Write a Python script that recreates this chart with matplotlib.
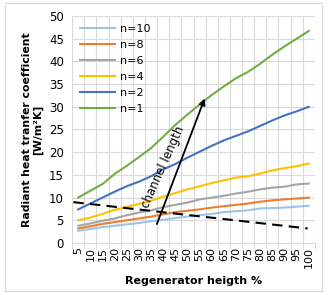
import numpy as np
import matplotlib
matplotlib.use("Agg")
import matplotlib.pyplot as plt
from matplotlib.patches import Rectangle

heights = [5, 10, 15, 20, 25, 30, 35, 40, 45, 50, 55, 60, 65, 70, 75, 80, 85, 90, 95, 100]

n10 = [2.7, 3.1, 3.5, 3.8, 4.1, 4.4, 4.8, 5.1, 5.5, 5.8, 6.1, 6.4, 6.8, 7.0, 7.2, 7.6, 7.7, 7.8, 8.0, 8.2]
n8 = [3.2, 3.7, 4.2, 4.6, 5.0, 5.4, 5.8, 6.3, 6.8, 7.1, 7.4, 7.8, 8.1, 8.4, 8.7, 9.1, 9.4, 9.6, 9.8, 10.0]
n6 = [3.8, 4.3, 4.9, 5.4, 6.1, 6.7, 7.2, 7.9, 8.4, 8.9, 9.6, 10.0, 10.4, 10.9, 11.3, 11.8, 12.2, 12.4, 12.9, 13.1]
n4 = [5.0, 5.6, 6.4, 7.3, 8.0, 8.6, 9.3, 10.2, 11.0, 11.8, 12.5, 13.2, 13.8, 14.4, 14.7, 15.3, 16.0, 16.5, 16.9, 17.5]
n2 = [7.4, 8.7, 10.0, 11.3, 12.5, 13.5, 14.7, 16.2, 17.4, 18.8, 20.1, 21.4, 22.6, 23.6, 24.6, 25.8, 27.0, 28.1, 29.0, 30.0]
n1 = [10.0, 11.5, 13.0, 15.2, 17.0, 18.9, 20.9, 23.4, 26.0, 28.3, 30.5, 32.6, 34.5, 36.3, 37.7, 39.5, 41.5, 43.3, 45.0, 46.7]

series = [("n=10", n10, "#9DC3E6"), ("n=8", n8, "#ED7D31"), ("n=6", n6, "#A5A5A5"),
          ("n=4", n4, "#FFC000"), ("n=2", n2, "#4472C4"), ("n=1", n1, "#70AD47")]

# dashed trend line and arrow (category index, value)
dash_x = [-0.4, 18.9]
dash_y = [9.0, 3.2]
arrow_tail = (6.4, 3.6)
arrow_head = (10.5, 32.4)

fig = plt.figure(figsize=(3.28, 2.95), dpi=100)
fig.patches.append(Rectangle((0.015, 0.015), 0.968, 0.975, transform=fig.transFigure,
                             fill=False, edgecolor="#D9D9D9", linewidth=0.8))
ax = fig.add_axes([0.220, 0.1763, 0.740, 0.7695])

x = np.arange(len(heights))
for name, vals, col in series:
    ax.plot(x, vals, color=col, linewidth=1.5, label=name)

ax.plot(dash_x, dash_y, color="black", linestyle=(0, (5, 3)), linewidth=1.5)
ax.annotate("", xy=arrow_head, xytext=arrow_tail,
            arrowprops=dict(arrowstyle="-|>", color="black", lw=1.3, mutation_scale=9))
ax.text(7.0, 16.7, "channel length", rotation=66, fontsize=8.5,
        ha="center", va="center", rotation_mode="anchor")

ax.set_xlim(-0.5, len(heights) - 0.5)
ax.set_ylim(0, 50)
ax.set_yticks(range(0, 51, 5))
ax.set_xticks(x)
ax.set_xticklabels([str(h) for h in heights], rotation=90)
ax.set_xticks(np.arange(-0.5, len(heights), 1), minor=True)
ax.tick_params(axis="x", which="major", length=0, labelsize=8, pad=3)
ax.tick_params(axis="x", which="minor", length=4, color="#D9D9D9")
ax.tick_params(axis="y", length=0, labelsize=8.5, pad=6)
ax.grid(True, axis="y", color="#D9D9D9", linewidth=0.8)
ax.grid(True, axis="x", which="minor", color="#D9D9D9", linewidth=0.8)
for s in ax.spines.values():
    s.set_visible(False)
ax.spines["bottom"].set_visible(True)
ax.spines["bottom"].set_color("#D9D9D9")

ax.set_ylabel("Radiant heat tranfer coefficient\n[W/m²K]", fontsize=7.8, fontweight="bold", labelpad=4)
ax.set_xlabel("Regenerator heigth %", fontsize=8, fontweight="bold", labelpad=6)

ax.legend(loc="upper left", frameon=False, fontsize=8, handlelength=3.2,
          labelspacing=0.55, borderaxespad=0.3, handletextpad=0.4)

fig.savefig("out.png", dpi=100)
